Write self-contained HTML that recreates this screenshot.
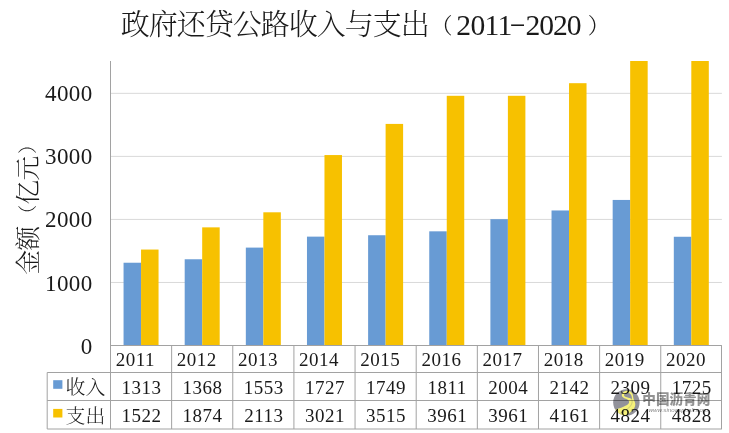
<!DOCTYPE html>
<html lang="zh"><head><meta charset="utf-8"><title>政府还贷公路收入与支出</title>
<style>html,body{margin:0;padding:0;background:#fff}body{width:729px;height:433px;overflow:hidden}svg{display:block}text{font-family:'Liberation Serif','Noto Serif CJK SC',serif;fill:#1a1a1a}.cj{font-weight:300}.t{font-size:19px;letter-spacing:0.5px}.y{font-size:23px;letter-spacing:0.4px}</style></head><body>
<svg width="729" height="433" viewBox="0 0 729 433">
<rect width="729" height="433" fill="#fff"/>
<line x1="110.5" x2="721.9" y1="282.46" y2="282.46" stroke="#d9d9d9" stroke-width="1"/>
<line x1="110.5" x2="721.9" y1="219.42" y2="219.42" stroke="#d9d9d9" stroke-width="1"/>
<line x1="110.5" x2="721.9" y1="156.38" y2="156.38" stroke="#d9d9d9" stroke-width="1"/>
<line x1="110.5" x2="721.9" y1="93.34" y2="93.34" stroke="#d9d9d9" stroke-width="1"/>
<rect x="123.55" y="262.73" width="17.50" height="82.77" fill="#689bd4"/>
<rect x="141.05" y="249.55" width="17.50" height="95.95" fill="#f7c100"/>
<rect x="184.69" y="259.26" width="17.50" height="86.24" fill="#689bd4"/>
<rect x="202.19" y="227.36" width="17.50" height="118.14" fill="#f7c100"/>
<rect x="245.83" y="247.60" width="17.50" height="97.90" fill="#689bd4"/>
<rect x="263.33" y="212.30" width="17.50" height="133.20" fill="#f7c100"/>
<rect x="306.97" y="236.63" width="17.50" height="108.87" fill="#689bd4"/>
<rect x="324.47" y="155.06" width="17.50" height="190.44" fill="#f7c100"/>
<rect x="368.11" y="235.24" width="17.50" height="110.26" fill="#689bd4"/>
<rect x="385.61" y="123.91" width="17.50" height="221.59" fill="#f7c100"/>
<rect x="429.25" y="231.33" width="17.50" height="114.17" fill="#689bd4"/>
<rect x="446.75" y="95.80" width="17.50" height="249.70" fill="#f7c100"/>
<rect x="490.39" y="219.17" width="17.50" height="126.33" fill="#689bd4"/>
<rect x="507.89" y="95.80" width="17.50" height="249.70" fill="#f7c100"/>
<rect x="551.53" y="210.47" width="17.50" height="135.03" fill="#689bd4"/>
<rect x="569.03" y="83.19" width="17.50" height="262.31" fill="#f7c100"/>
<rect x="612.67" y="199.94" width="17.50" height="145.56" fill="#689bd4"/>
<rect x="630.17" y="61.00" width="17.50" height="284.50" fill="#f7c100"/>
<rect x="673.81" y="236.76" width="17.50" height="108.74" fill="#689bd4"/>
<rect x="691.31" y="61.00" width="17.50" height="284.50" fill="#f7c100"/>
<line x1="110.5" x2="721.9" y1="345.50" y2="345.50" stroke="#a2a2a2" stroke-width="1"/>
<line x1="47.2" x2="721.9" y1="372.50" y2="372.50" stroke="#a2a2a2" stroke-width="1"/>
<line x1="47.2" x2="721.9" y1="400.50" y2="400.50" stroke="#a2a2a2" stroke-width="1"/>
<line x1="47.2" x2="721.9" y1="429.00" y2="429.00" stroke="#a2a2a2" stroke-width="1"/>
<line x1="110.50" x2="110.50" y1="61.0" y2="429.0" stroke="#a2a2a2" stroke-width="1"/>
<line x1="47.20" x2="47.20" y1="372.5" y2="429.0" stroke="#a2a2a2" stroke-width="1"/>
<line x1="171.64" x2="171.64" y1="345.5" y2="429.0" stroke="#a2a2a2" stroke-width="1"/>
<line x1="232.78" x2="232.78" y1="345.5" y2="429.0" stroke="#a2a2a2" stroke-width="1"/>
<line x1="293.92" x2="293.92" y1="345.5" y2="429.0" stroke="#a2a2a2" stroke-width="1"/>
<line x1="355.06" x2="355.06" y1="345.5" y2="429.0" stroke="#a2a2a2" stroke-width="1"/>
<line x1="416.20" x2="416.20" y1="345.5" y2="429.0" stroke="#a2a2a2" stroke-width="1"/>
<line x1="477.34" x2="477.34" y1="345.5" y2="429.0" stroke="#a2a2a2" stroke-width="1"/>
<line x1="538.48" x2="538.48" y1="345.5" y2="429.0" stroke="#a2a2a2" stroke-width="1"/>
<line x1="599.62" x2="599.62" y1="345.5" y2="429.0" stroke="#a2a2a2" stroke-width="1"/>
<line x1="660.76" x2="660.76" y1="345.5" y2="429.0" stroke="#a2a2a2" stroke-width="1"/>
<line x1="721.50" x2="721.50" y1="345.5" y2="429.0" stroke="#a2a2a2" stroke-width="1"/>
<text class="y" x="92.6" y="353.5" text-anchor="end">0</text>
<text class="y" x="92.6" y="290.5" text-anchor="end">1000</text>
<text class="y" x="92.6" y="227.4" text-anchor="end">2000</text>
<text class="y" x="92.6" y="164.4" text-anchor="end">3000</text>
<text class="y" x="92.6" y="101.3" text-anchor="end">4000</text>
<text class="t" x="115.7" y="366" >2011</text>
<text class="t" x="141.5" y="393.7" text-anchor="middle">1313</text>
<text class="t" x="141.5" y="422.4" text-anchor="middle">1522</text>
<text class="t" x="176.8" y="366" >2012</text>
<text class="t" x="202.6" y="393.7" text-anchor="middle">1368</text>
<text class="t" x="202.6" y="422.4" text-anchor="middle">1874</text>
<text class="t" x="238.0" y="366" >2013</text>
<text class="t" x="263.8" y="393.7" text-anchor="middle">1553</text>
<text class="t" x="263.8" y="422.4" text-anchor="middle">2113</text>
<text class="t" x="299.1" y="366" >2014</text>
<text class="t" x="324.9" y="393.7" text-anchor="middle">1727</text>
<text class="t" x="324.9" y="422.4" text-anchor="middle">3021</text>
<text class="t" x="360.3" y="366" >2015</text>
<text class="t" x="386.0" y="393.7" text-anchor="middle">1749</text>
<text class="t" x="386.0" y="422.4" text-anchor="middle">3515</text>
<text class="t" x="421.4" y="366" >2016</text>
<text class="t" x="447.2" y="393.7" text-anchor="middle">1811</text>
<text class="t" x="447.2" y="422.4" text-anchor="middle">3961</text>
<text class="t" x="482.5" y="366" >2017</text>
<text class="t" x="508.3" y="393.7" text-anchor="middle">2004</text>
<text class="t" x="508.3" y="422.4" text-anchor="middle">3961</text>
<text class="t" x="543.7" y="366" >2018</text>
<text class="t" x="569.4" y="393.7" text-anchor="middle">2142</text>
<text class="t" x="569.4" y="422.4" text-anchor="middle">4161</text>
<text class="t" x="604.8" y="366" >2019</text>
<text class="t" x="630.6" y="393.7" text-anchor="middle">2309</text>
<text class="t" x="630.6" y="422.4" text-anchor="middle">4824</text>
<text class="t" x="666.0" y="366" >2020</text>
<text class="t" x="691.7" y="393.7" text-anchor="middle">1725</text>
<text class="t" x="691.7" y="422.4" text-anchor="middle">4828</text>
<rect x="53.2" y="380.2" width="9.2" height="8.6" fill="#689bd4"/>
<rect x="53.2" y="408.9" width="9.2" height="8.6" fill="#f7c100"/>
<text class="cj" x="65.6" y="394" font-size="19.8" letter-spacing="0">收入</text>
<text class="cj" x="65.6" y="422.6" font-size="19.8" letter-spacing="0">支出</text>
<text class="cj" y="35.3" font-size="29"><tspan x="120.7" letter-spacing="-1">政府还贷公路收入与支出</tspan><tspan x="430.4" y="33.2" font-size="22">（</tspan><tspan x="456.3" y="35.3" font-size="29.6" textLength="56" lengthAdjust="spacing">2011</tspan><tspan x="509.3" y="29.6" font-size="20" textLength="16.6" lengthAdjust="spacingAndGlyphs">-</tspan><tspan x="525.5" y="35.3" font-size="29.6" textLength="56" lengthAdjust="spacing">2020</tspan><tspan x="587.8" y="33.2" font-size="22">）</tspan></text>
<text class="cj" transform="translate(37,274.5) rotate(-90)" font-size="24.6"><tspan x="0" y="0" letter-spacing="-0.6">金额</tspan><tspan x="50.8" y="-1.8" font-size="19">（</tspan><tspan x="70" y="0" letter-spacing="-0.6">亿元</tspan><tspan x="120.5" y="-1.8" font-size="19">）</tspan></text>
<defs><clipPath id="wc"><circle cx="626.4" cy="402.4" r="13.2"/></clipPath></defs>
<g style="mix-blend-mode:multiply"><circle cx="626.4" cy="402.4" r="13.2" fill="#92929a"/><g clip-path="url(#wc)"><path d="M626.7 390.8 C629.6 390.7 631.6 391.9 632.4 393.8 C633.2 395.6 633.1 397.2 633.5 398.8 C634 400.6 635.4 402.4 635.3 404.6 C635.1 407.4 633.8 409.4 631.6 411.2 C629.6 413 627 415 624.6 417 L613 410.2 C616.8 409.2 620.6 408.2 623.5 406.8 C626.2 405.5 628.4 404.4 628.9 403 C629.4 401.6 629 400.6 628 399.9 C626.8 399 625.2 398.7 623.9 398 C622.6 397.3 621.8 396.4 621.8 395.1 C621.8 393.2 623.6 390.9 626.7 390.8 Z M627.2 392.8 C625.2 392.9 623.9 394 624 395.2 C624.1 396.3 625.4 396.7 627 397.2 C628.6 397.7 630.6 398.2 631.9 399.2 C632 397.6 631.8 396 631 394.8 C630.2 393.6 628.8 392.7 627.2 392.8 Z" fill="#f6f27a" fill-rule="evenodd"/><path d="M631.6 399.2 C633.6 403.4 630.4 408.6 620 413.4" fill="none" stroke="#b5b27c" stroke-width="0.6"/></g><text x="642.3" y="404.3" style="font-family:'Liberation Sans','Noto Sans CJK SC',sans-serif;font-weight:900;fill:#939393" font-size="13.6">中国沥青网</text><text x="648.5" y="412.4" style="font-family:'Liberation Sans',sans-serif;font-style:italic;fill:#8c8c8c" font-size="6.2">www.sinoasphalt.com</text></g>
</svg></body></html>
